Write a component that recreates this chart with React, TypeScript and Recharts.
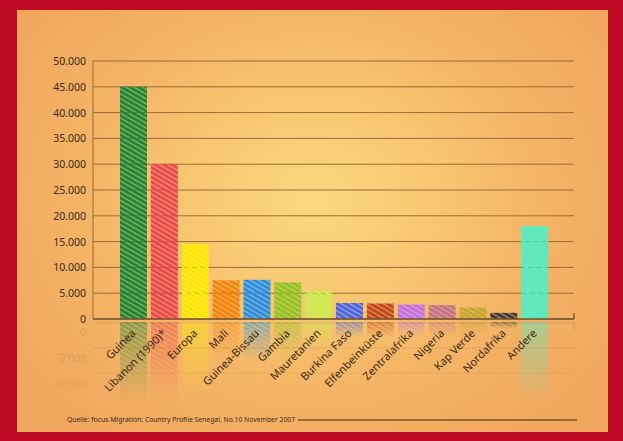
import React from 'react';
import { BarChart, Bar, XAxis, YAxis, CartesianGrid, Cell } from 'recharts';

const categories = [
  'Guinea', 'Libanon (1990)*', 'Europa', 'Mali', 'Guinea-Bissau', 'Gambia', 'Mauretanien',
  'Burkina Faso', 'Elfenbeinküste', 'Zentralafrika', 'Nigeria', 'Kap Verde', 'Nordafrika', 'Andere',
];
const values = [45000, 30000, 14600, 7500, 7600, 7100, 5500, 3100, 3000, 2800, 2700, 2200, 1200, 18000];
const barColors = [
  '#13893a', '#ea4652', '#fff000', '#f08411', '#1b8ef5', '#8cc524', '#c9f04e',
  '#3f64f5', '#c24420', '#bf6cf7', '#c07090', '#c4a632', '#3a3a3a', '#3df5d2',
];
const yTicks = [0, 5000, 10000, 15000, 20000, 25000, 30000, 35000, 40000, 45000, 50000];
const sourceText = 'Quelle: focus Migration: Country Profile Senegal, No.10 November 2007';
const reflectedLabels = ['0', '5.000', '10.000'];

const data = categories.map((name, i) => ({ name, value: values[i], color: barColors[i] }));

const FONT = '"Noto Sans", "Open Sans", sans-serif';
const GRID = '#9a6b38';
const TEXT = '#3a2a18';

const fmt = (v: number) => (v === 0 ? '0' : v.toLocaleString('de-DE'));

const HatchBar = (props: any) => {
  const { x, y, width, height, index } = props;
  if (!height || height <= 0) return null;
  const color = barColors[index];
  const id = `hatch-${index}`;
  const base = y + height;
  const rh = Math.min(height, 80);
  return (
    <g>
      <defs>
        <pattern id={id} patternUnits="userSpaceOnUse" width={6} height={4.2} patternTransform="rotate(30)">
          <rect width={6} height={4.2} fill={color} fillOpacity={0.35} />
          <line x1={0} y1={2.1} x2={6} y2={2.1} stroke={color} strokeWidth={2.9} />
        </pattern>
        <linearGradient id={`fade-${index}`} x1="0" y1="0" x2="0" y2="1">
          <stop offset="0%" stopColor="#fff" stopOpacity={0.5} />
          <stop offset="100%" stopColor="#fff" stopOpacity={0} />
        </linearGradient>
        <mask id={`mask-${index}`} maskContentUnits="objectBoundingBox">
          <rect width={1} height={1} fill={`url(#fade-${index})`} />
        </mask>
      </defs>
      <rect x={x} y={y} width={width} height={height} fill={`url(#${id})`} />
      <rect x={x} y={base + 3} width={width} height={rh} fill={`url(#${id})`} mask={`url(#mask-${index})`} />
    </g>
  );
};

const XTick = (props: any) => {
  const { x, payload } = props;
  const ax = x + 3;
  const ay = 334;
  return (
    <text
      x={ax}
      y={ay}
      textAnchor="end"
      transform={`rotate(-45, ${ax}, ${ay})`}
      fontSize={11}
      fontFamily={FONT}
      fill={TEXT}
    >
      {payload.value}
    </text>
  );
};

const YTick = (props: any) => {
  const { y, payload } = props;
  return (
    <text x={86} y={y} dy={4} textAnchor="end" fontSize={10.5} fontFamily={FONT} fill={TEXT}>
      {fmt(payload.value)}
    </text>
  );
};

export default function App() {
  return (
    <div style={{ position: 'absolute', left: 0, top: 0, width: 623, height: 441, background: '#bf0a26', overflow: 'hidden' }}>
      <div
        style={{
          position: 'absolute',
          left: 17,
          top: 10,
          width: 591,
          height: 422,
          background:
            'radial-gradient(ellipse 62% 72% at 50% 45%, #fbd87e 0%, #f8c972 30%, #f4b466 62%, #f0a65d 100%)',
        }}
      />
      <div style={{ position: 'absolute', left: 0, top: 0 }}>
        <BarChart
          width={623}
          height={441}
          data={data}
          margin={{ top: 61, right: 49, left: 0, bottom: 0 }}
        >
          <CartesianGrid horizontal vertical={false} stroke={GRID} strokeWidth={1} />
          <XAxis
            dataKey="name"
            height={122}
            interval={0}
            padding={{ left: 25, right: 24 }}
            axisLine={{ stroke: '#7a5530', strokeWidth: 1.3 }}
            tickLine={false}
            tick={<XTick />}
          />
          <YAxis
            width={93}
            domain={[0, 50000]}
            ticks={yTicks}
            interval={0}
            axisLine={{ stroke: GRID, strokeWidth: 1 }}
            tickLine={false}
            tick={<YTick />}
          />
          <Bar dataKey="value" barSize={27} isAnimationActive={false} shape={<HatchBar />}>
            {data.map((d, i) => (
              <Cell key={i} fill={d.color} />
            ))}
          </Bar>
        </BarChart>
      </div>
      <svg width={623} height={441} style={{ position: 'absolute', left: 0, top: 0, pointerEvents: 'none' }}>
        <line x1={574} y1={313} x2={574} y2={319} stroke="#7a5530" strokeWidth={1.3} />
        <line x1={93} y1={323} x2={574} y2={323} stroke="#7a5530" strokeOpacity={0.18} />
        <line x1={574} y1={323} x2={574} y2={332} stroke="#7a5530" strokeOpacity={0.18} />
        <line x1={93} y1={348} x2={574} y2={348} stroke={GRID} strokeOpacity={0.18} />
        <line x1={93} y1={373} x2={574} y2={373} stroke={GRID} strokeOpacity={0.12} />
        {reflectedLabels.map((t, i) => (
          <text
            key={t}
            x={86}
            y={-(328 + i * 25.8)}
            textAnchor="end"
            transform="scale(1,-1)"
            fontSize={10.5}
            fontFamily={FONT}
            fill={TEXT}
            fillOpacity={0.18 - i * 0.04}
          >
            {t}
          </text>
        ))}
        <text x={67} y={422} fontSize={6.8} fontFamily={FONT} fill={TEXT}>
          {sourceText}
        </text>
        <line x1={298} y1={420} x2={577} y2={420} stroke={TEXT} strokeWidth={1.2} />
      </svg>
    </div>
  );
}
